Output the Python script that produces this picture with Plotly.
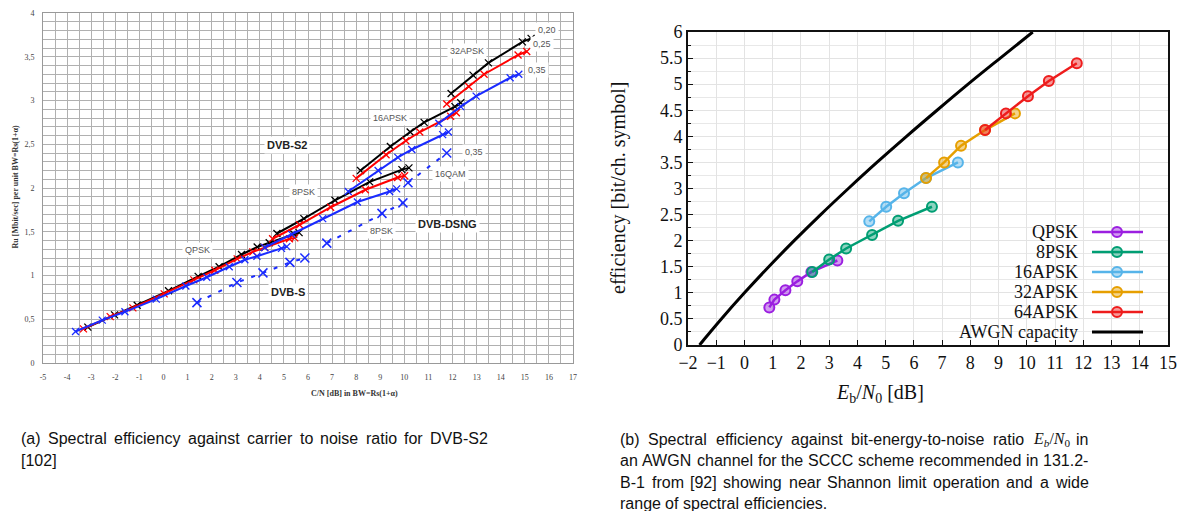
import plotly.graph_objects as go

W, H = 1187, 511

# ---------------- Left chart data (C/N [dB] vs Ru per unit BW) ----------------
# roll-off 0.20 (black)
k_qpsk_x = [-3.14, -2.03, -1.09, 0.21, 1.44, 2.31, 3.24, 3.89, 4.39, 5.41, 5.63]
k_qpsk_y = [0.41, 0.55, 0.66, 0.825, 0.99, 1.10, 1.24, 1.325, 1.375, 1.475, 1.49]
k_8psk_x = [4.71, 5.83, 7.12, 8.56, 9.90, 10.19]
k_8psk_y = [1.48, 1.65, 1.86, 2.07, 2.21, 2.23]
k_16a_x = [8.18, 9.42, 10.24, 10.82, 12.10, 12.34]
k_16a_y = [2.20, 2.475, 2.64, 2.75, 2.93, 2.975]
k_32a_x = [11.94, 12.85, 13.49, 14.90, 15.26]
k_32a_y = [3.08, 3.29, 3.43, 3.67, 3.71]
# roll-off 0.25 (red)
r_qpsk_x = [-3.32, -2.21, -1.27, 0.03, 1.26, 2.13, 3.06, 3.71, 4.21, 5.23, 5.45]
r_qpsk_y = [0.39, 0.53, 0.63, 0.79, 0.95, 1.06, 1.19, 1.27, 1.32, 1.42, 1.43]
r_8psk_x = [4.53, 5.65, 6.94, 8.38, 9.72, 10.01]
r_8psk_y = [1.42, 1.58, 1.78, 1.98, 2.12, 2.14]
r_16a_x = [8.00, 9.24, 10.06, 10.64, 11.92, 12.16]
r_16a_y = [2.11, 2.38, 2.54, 2.64, 2.82, 2.86]
r_32a_x = [11.76, 12.67, 13.31, 14.72, 15.08]
r_32a_y = [2.96, 3.16, 3.30, 3.52, 3.56]
# roll-off 0.35 (blue)
b_qpsk_x = [-3.65, -2.54, -1.60, -0.30, 0.93, 1.80, 2.73, 3.38, 3.88, 4.90, 5.12]
b_qpsk_y = [0.36, 0.49, 0.585, 0.73, 0.88, 0.98, 1.10, 1.18, 1.22, 1.31, 1.33]
b_8psk_x = [4.20, 5.32, 6.61, 8.05, 9.39, 9.68]
b_8psk_y = [1.32, 1.47, 1.65, 1.84, 1.96, 1.99]
b_16a_x = [7.67, 8.91, 9.73, 10.31, 11.59, 11.83]
b_16a_y = [1.96, 2.20, 2.35, 2.44, 2.61, 2.64]
b_32a_x = [11.43, 12.34, 12.98, 14.39, 14.75]
b_32a_y = [2.74, 2.93, 3.05, 3.26, 3.30]
# DVB-S / DVB-DSNG (dashed blue)
dvbs_x = [1.39, 3.05, 4.13, 5.25, 5.87]
dvbs_y = [0.69, 0.92, 1.03, 1.15, 1.20]
dsng8_x = [6.78, 9.07, 9.94]
dsng8_y = [1.37, 1.71, 1.83]
dsng16_x = [10.15, 11.76]
dsng16_y = [2.06, 2.40]

left_xticks = list(range(-5, 18))
left_xtext = [str(v) for v in left_xticks]
left_yticks = [0, 0.5, 1, 1.5, 2, 2.5, 3, 3.5, 4]
left_ytext = ["0", "0,5", "1", "1,5", "2", "2,5", "3", "3,5", "4"]

# ---------------- Right chart data (Eb/N0 vs efficiency) ----------------
qpsk_x = [0.88, 1.06, 1.45, 1.87, 2.37, 3.29]
qpsk_y = [0.72, 0.87, 1.05, 1.22, 1.40, 1.62]
psk8_x = [2.40, 3.00, 3.60, 4.52, 5.44, 6.64]
psk8_y = [1.40, 1.64, 1.85, 2.11, 2.38, 2.65]
apsk16_x = [4.42, 5.02, 5.65, 6.43, 7.56]
apsk16_y = [2.37, 2.65, 2.91, 3.20, 3.50]
apsk32_x = [6.43, 7.07, 7.67, 8.52, 9.58]
apsk32_y = [3.20, 3.50, 3.82, 4.12, 4.44]
apsk64_x = [8.52, 9.26, 10.04, 10.78, 11.77]
apsk64_y = [4.12, 4.44, 4.77, 5.06, 5.40]
awgn_x = [-1.59, -1.44, -1.21, -0.82, 0.0, 0.86, 1.76, 2.70, 3.68, 4.69, 5.74, 6.82, 7.92, 9.06, 10.21]
awgn_y = [0.0, 0.1, 0.25, 0.5, 1.0, 1.5, 2.0, 2.5, 3.0, 3.5, 4.0, 4.5, 5.0, 5.5, 6.0]

right_names = ["QPSK", "8PSK", "16APSK", "32APSK", "64APSK", "AWGN capacity"]
right_colors = ["#9B1FE0", "#009E73", "#56B4E9", "#E69F00", "#EE1C1C", "#000000"]


def px(x):
    return x / W


def py(y):
    return 1 - y / H


def rgba(hexc, a):
    h = hexc.lstrip("#")
    return "rgba(%d,%d,%d,%.2f)" % (int(h[0:2], 16), int(h[2:4], 16), int(h[4:6], 16), a)


fig = go.Figure()

# left traces
left_sets = [
    ("#000000", [(k_qpsk_x, k_qpsk_y), (k_8psk_x, k_8psk_y), (k_16a_x, k_16a_y), (k_32a_x, k_32a_y)]),
    ("#FF0000", [(r_qpsk_x, r_qpsk_y), (r_8psk_x, r_8psk_y), (r_16a_x, r_16a_y), (r_32a_x, r_32a_y)]),
    ("#1A2BFF", [(b_qpsk_x, b_qpsk_y), (b_8psk_x, b_8psk_y), (b_16a_x, b_16a_y), (b_32a_x, b_32a_y)]),
]
for col, segs in left_sets:
    for xs, ys in segs:
        fig.add_trace(go.Scatter(
            x=xs, y=ys, mode="lines+markers", xaxis="x", yaxis="y",
            line=dict(color=col, width=2),
            marker=dict(symbol="x-thin", size=7, line=dict(color=col, width=1.3), color=col),
            showlegend=False, hoverinfo="skip"))

for xs, ys in [(dvbs_x, dvbs_y), (dsng8_x, dsng8_y), (dsng16_x, dsng16_y)]:
    fig.add_trace(go.Scatter(
        x=xs, y=ys, mode="lines+markers", xaxis="x", yaxis="y",
        line=dict(color="#1A2BFF", width=2, dash="4px,8px"),
        marker=dict(symbol="x-thin", size=9, line=dict(color="#1A2BFF", width=1.5), color="#1A2BFF"),
        showlegend=False, hoverinfo="skip"))

# right traces
right_data = [(qpsk_x, qpsk_y), (psk8_x, psk8_y), (apsk16_x, apsk16_y), (apsk32_x, apsk32_y), (apsk64_x, apsk64_y)]
fig.add_trace(go.Scatter(x=awgn_x, y=awgn_y, mode="lines", xaxis="x2", yaxis="y2",
                         line=dict(color="#000000", width=3, shape="spline"), showlegend=False, hoverinfo="skip"))
for (xs, ys), col, name in zip(right_data, right_colors, right_names):
    fig.add_trace(go.Scatter(
        x=xs, y=ys, mode="lines+markers", xaxis="x2", yaxis="y2", name=name,
        line=dict(color=col, width=2.5),
        marker=dict(symbol="circle", size=10, color=rgba(col, 0.45), line=dict(color=col, width=2)),
        showlegend=False, hoverinfo="skip"))

gridc = "#B0B0B0"
left_tick_font = dict(family="Liberation Serif", size=8, color="#444444")
serif = "Liberation Serif"

fig.update_layout(
    width=W, height=H, margin=dict(l=0, r=0, t=0, b=0),
    paper_bgcolor="white", plot_bgcolor="white",
    xaxis=dict(domain=[px(43), px(573)], range=[-5, 17], anchor="y", automargin=False,
               tickvals=left_xticks, ticktext=left_xtext, tickfont=left_tick_font,
               showgrid=True, gridcolor=gridc, gridwidth=1,
               minor=dict(dtick=0.5, tick0=0, showgrid=True, gridcolor=gridc, gridwidth=1),
               showline=True, linecolor="#999999", linewidth=1, mirror=True,
               zeroline=False, ticks="", ticklabelstandoff=6),
    yaxis=dict(domain=[py(363), py(13)], range=[0, 4], anchor="x", automargin=False,
               tickvals=left_yticks, ticktext=left_ytext, tickfont=left_tick_font,
               showgrid=True, gridcolor=gridc, gridwidth=1,
               minor=dict(dtick=0.1, tick0=0, showgrid=True, gridcolor=gridc, gridwidth=1),
               showline=True, linecolor="#999999", linewidth=1, mirror=True,
               zeroline=False, ticks="", ticklabelstandoff=6),
    xaxis2=dict(domain=[px(688), px(1168)], range=[-2, 15], anchor="y2", automargin=False,
                dtick=1, tick0=0, tickfont=dict(family=serif, size=18, color="#111111"),
                showgrid=True, gridcolor="#E3E3E3", gridwidth=1,
                showline=True, linecolor="#111111", linewidth=2, mirror=True,
                ticks="inside", ticklen=5, tickcolor="#111111", zeroline=False),
    yaxis2=dict(domain=[py(345), py(32)], range=[0, 6], anchor="x2", automargin=False,
                dtick=0.5, tick0=0, tickfont=dict(family=serif, size=18, color="#111111"),
                showgrid=True, gridcolor="#E3E3E3", gridwidth=1,
                minor=dict(dtick=0.25, showgrid=True, gridcolor="#E8E8E8", ticks="inside", ticklen=3, tickcolor="#111111"),
                showline=True, linecolor="#111111", linewidth=2, mirror=True,
                ticks="inside", ticklen=5, tickcolor="#111111", zeroline=False),
)

ann = []
# left annotations
small = dict(family="Liberation Sans", size=9, color="#555555")
bold = dict(family="Liberation Sans", size=11, color="#222222")
left_labels = [
    ("0,20", 15.9, 3.80, small), ("0,25", 15.7, 3.65, small), ("0,35", 15.5, 3.35, small),
    ("32APSK", 12.6, 3.56, small), ("16APSK", 9.4, 2.80, small), ("<b>DVB-S2</b>", 5.13, 2.49, bold),
    ("0,35", 12.9, 2.41, small), ("16QAM", 11.9, 2.16, small), ("8PSK", 5.8, 1.95, small),
    ("<b>DVB-DSNG</b>", 11.8, 1.59, bold), ("8PSK", 9.07, 1.51, small), ("QPSK", 1.4, 1.29, small),
    ("<b>DVB-S</b>", 5.17, 0.81, bold),
]
for t, x, y, f in left_labels:
    ann.append(dict(text=t, x=x, y=y, xref="x", yref="y", showarrow=False, font=f,
                    bgcolor="white", borderpad=2))

ann.append(dict(text="<b>C/N [dB] in BW=Rs(1+α)</b>", x=px(309), y=py(400), xref="paper", yref="paper",
                showarrow=False, font=dict(family=serif, size=8, color="#333333")))
ann.append(dict(text="<b>Ru [Mbit/sec] per unit BW=Rs(1+α)</b>", x=px(8), y=py(187), xref="paper", yref="paper",
                showarrow=False, textangle=-90, font=dict(family=serif, size=8, color="#333333")))

# right axis titles
ann.append(dict(text="<i>E</i><sub>b</sub>/<i>N</i><sub>0</sub> [dB]", x=px(926), y=py(408), xref="paper", yref="paper",
                showarrow=False, font=dict(family=serif, size=20, color="#111111")))
ann.append(dict(text="efficiency [bit/ch. symbol]", x=px(618), y=py(188), xref="paper", yref="paper",
                showarrow=False, textangle=-90, font=dict(family=serif, size=20, color="#111111")))

# manual legend (text left of sample)
shapes = [dict(type="rect", xref="paper", yref="paper", x0=px(922), x1=px(1166), y0=py(343), y1=py(216),
               fillcolor="white", line=dict(width=0), layer="between")]
leg_y = [232, 252, 272, 292, 312, 332]
for name, col, yy in zip(right_names, right_colors, leg_y):
    ann.append(dict(text=name, x=px(1080), y=py(yy), xref="paper", yref="paper", xanchor="right",
                    showarrow=False, font=dict(family=serif, size=18, color="#111111")))
    shapes.append(dict(type="line", xref="paper", yref="paper", x0=px(1092), x1=px(1143), y0=py(yy), y1=py(yy),
                       line=dict(color=col, width=3 if name.startswith("AWGN") else 2.5)))
    if not name.startswith("AWGN"):
        shapes.append(dict(type="circle", xref="paper", yref="paper", x0=px(1112), x1=px(1122),
                           y0=py(yy + 5), y1=py(yy - 5), fillcolor=rgba(col, 0.45), line=dict(color=col, width=2)))

# captions (justified by placing words)
CAP_SIZE = 16.0
cap = dict(family="Liberation Sans", size=CAP_SIZE, color="#111111")
AW = {' ': 278, '(': 333, ')': 333, '[': 278, ']': 278, '-': 333, '.': 278, '/': 278, ',': 278,
      'a': 556, 'b': 556, 'c': 500, 'd': 556, 'e': 556, 'f': 278, 'g': 556, 'h': 556, 'i': 222,
      'j': 222, 'k': 500, 'l': 222, 'm': 833, 'n': 556, 'o': 556, 'p': 556, 'q': 556, 'r': 333,
      's': 500, 't': 278, 'u': 556, 'v': 500, 'w': 722, 'x': 500, 'y': 500, 'z': 500,
      'A': 667, 'B': 667, 'C': 722, 'D': 722, 'E': 667, 'G': 778, 'N': 722, 'S': 667, 'V': 667, 'W': 944}


def wwidth(w):
    return sum(AW.get(c, 556) for c in w) * CAP_SIZE / 1000.0


eb = '<span style="font-family:Liberation Serif"><i>E<sub>b</sub></i>/<i>N</i><sub>0</sub></span>'
EB_W = 34.0

cap_lines = [
    (["(a)", "Spectral", "efficiency", "against", "carrier", "to", "noise", "ratio", "for", "DVB-S2"], 20, 487, 438, True),
    (["[102]"], 20, 487, 460, False),
    (["(b)", "Spectral", "efficiency", "against", "bit-energy-to-noise", "ratio", eb, "in"], 619, 1087, 439, True),
    (["an", "AWGN", "channel", "for", "the", "SCCC", "scheme", "recommended", "in", "131.2-"], 619, 1087, 460, True),
    (["B-1", "from", "[92]", "showing", "near", "Shannon", "limit", "operation", "and", "a", "wide"], 619, 1087, 482, True),
    (["range", "of", "spectral", "efficiencies."], 619, 1087, 503, False),
]
for words, x0, x1, yy, just in cap_lines:
    widths = [EB_W if w.startswith("<span") else wwidth(w) for w in words]
    if just and len(words) > 1:
        gap = (x1 - x0 - sum(widths)) / (len(words) - 1)
    else:
        gap = AW[' '] * CAP_SIZE / 1000.0
    xx = x0
    for w, wd in zip(words, widths):
        ann.append(dict(text=w, x=px(xx), y=py(yy), xref="paper", yref="paper", xanchor="left",
                        yanchor="middle", showarrow=False, font=cap, borderpad=0))
        xx += wd + gap

fig.update_layout(annotations=ann, shapes=shapes)
fig.write_html("out.html", config={"displayModeBar": False},
               post_script="document.body.style.margin='0';document.body.style.overflow='hidden';")
